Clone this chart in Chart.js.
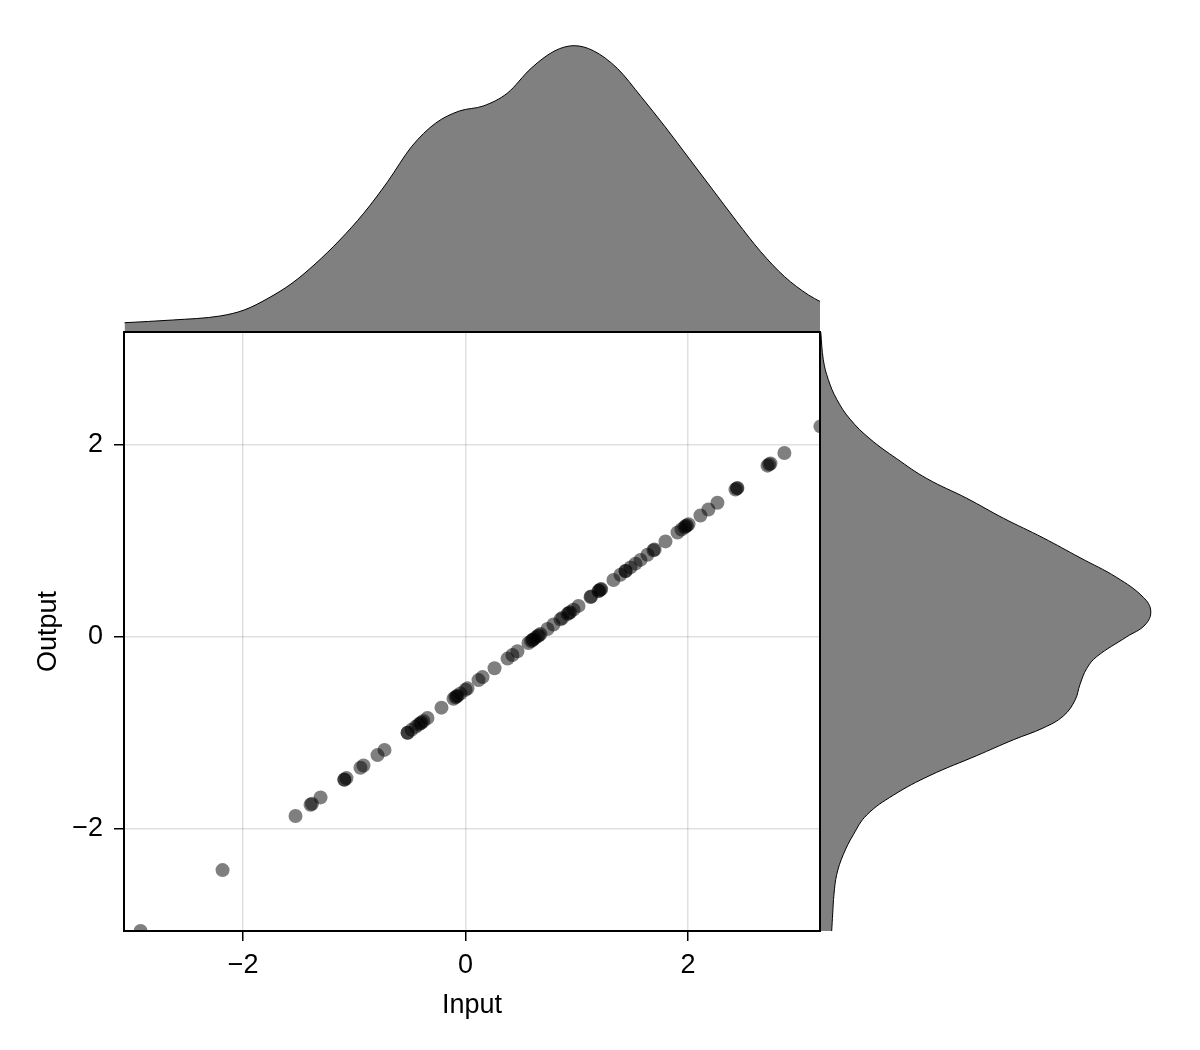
<!DOCTYPE html>
<html>
<head>
<meta charset="utf-8">
<script src="https://cdn.jsdelivr.net/npm/chart.js@4.4.1/dist/chart.umd.min.js"></script>
<style>
  html, body { margin: 0; padding: 0; background: #ffffff; }
  #wrap { position: relative; width: 1200px; height: 1050px; background: #ffffff; }
  canvas { position: absolute; }
</style>
</head>
<body>
<div id="wrap">
  <canvas id="topDensity" width="696" height="301" style="left:124px; top:30px;"></canvas>
  <canvas id="rightDensity" width="350" height="599" style="left:820px; top:332px;"></canvas>
  <canvas id="main" width="1200" height="1050" style="left:0px; top:0px;"></canvas>
</div>
<script>
// ---------------- data ----------------
const inputValues = [
  -2.921, -2.184, -1.528, -1.393, -1.380, -1.303, -1.088, -1.090, -1.070, -0.944, -0.917,
  -0.791, -0.728, -0.521, -0.520, -0.485, -0.449, -0.422, -0.405, -0.395, -0.378, -0.342,
  -0.216, -0.108, -0.090, -0.080, -0.072, -0.045, 0.000, 0.018, 0.117, 0.153, 0.261,
  0.378, 0.422, 0.467, 0.566, 0.590, 0.602, 0.610, 0.629, 0.650, 0.660, 0.674, 0.737,
  0.791, 0.854, 0.870, 0.917, 0.930, 0.940, 0.971, 1.016, 1.124, 1.130, 1.196, 1.200,
  1.214, 1.220, 1.330, 1.393, 1.438, 1.440, 1.483, 1.528, 1.573, 1.636, 1.690, 1.700,
  1.798, 1.906, 1.942, 1.969, 1.980, 1.990, 2.005, 2.112, 2.184, 2.265, 2.427, 2.440,
  2.445, 2.715, 2.730, 2.742, 2.867, 3.191
];
const outputValues = [
  -3.062, -2.428, -1.864, -1.748, -1.737, -1.671, -1.485, -1.487, -1.470, -1.362, -1.339,
  -1.230, -1.176, -0.998, -0.997, -0.967, -0.936, -0.913, -0.898, -0.890, -0.875, -0.844,
  -0.736, -0.643, -0.627, -0.619, -0.612, -0.589, -0.550, -0.535, -0.449, -0.418, -0.326,
  -0.225, -0.187, -0.148, -0.063, -0.043, -0.032, -0.025, -0.009, 0.009, 0.018, 0.030, 0.084,
  0.130, 0.184, 0.198, 0.239, 0.250, 0.258, 0.285, 0.324, 0.417, 0.422, 0.478, 0.482,
  0.494, 0.499, 0.594, 0.648, 0.687, 0.688, 0.725, 0.764, 0.803, 0.857, 0.903, 0.912,
  0.996, 1.089, 1.120, 1.143, 1.153, 1.161, 1.174, 1.266, 1.328, 1.398, 1.537, 1.548,
  1.553, 1.785, 1.798, 1.808, 1.916, 2.194
];

// marginal density of Input (top)
const topGrid = [
  -3.065, -2.635, -2.205, -1.990, -1.775, -1.560, -1.345, -1.130, -0.915, -0.700,
  -0.485, -0.270, -0.055, 0.160, 0.375, 0.590, 0.805, 0.977, 1.149, 1.364,
  1.579, 1.794, 2.009, 2.224, 2.440, 2.654, 2.869, 3.084, 3.190
];
const topDensityValues = [
  0.0092, 0.0122, 0.0167, 0.0233, 0.0363, 0.0530, 0.0752, 0.1011, 0.1308, 0.1659,
  0.2048, 0.2308, 0.2444, 0.2500, 0.2641, 0.2919, 0.3114, 0.3170, 0.3114, 0.2919,
  0.2603, 0.2270, 0.1919, 0.1567, 0.1214, 0.0881, 0.0603, 0.0400, 0.0326
];

// marginal density of Output (right)
const rightGrid = [
  3.177, 2.888, 2.682, 2.476, 2.270, 2.064, 1.857, 1.651, 1.445, 1.238,
  1.032, 0.826, 0.620, 0.414, 0.270, 0.126, 0.002, -0.204, -0.328, -0.493,
  -0.658, -0.823, -0.947, -1.071, -1.236, -1.442, -1.648, -1.854, -2.060, -2.267,
  -2.473, -2.679, -2.885, -3.0625
];
const rightDensityValues = [
  0.0008, 0.0036, 0.0090, 0.0182, 0.0326, 0.0543, 0.0834, 0.1160, 0.1595, 0.1992,
  0.2427, 0.2826, 0.3225, 0.3514, 0.3595, 0.3533, 0.3334, 0.3008, 0.2899, 0.2826,
  0.2772, 0.2645, 0.2427, 0.2101, 0.1703, 0.1196, 0.0797, 0.0508, 0.0362, 0.0253,
  0.0182, 0.0152, 0.0138, 0.0127
];

const xTicks = [-2, 0, 2];
const yTicks = [-2, 0, 2];
const xTitle = 'Input';
const yTitle = 'Output';

// ---------------- config ----------------
const X_MIN = -3.070, X_MAX = 3.187;
const Y_MIN = -3.0625, Y_MAX = 3.177;
const FONT = { family: '"Liberation Sans", Arial, Helvetica, sans-serif', size: 27 };
const fmt = v => (v < 0 ? '\u2212' + Math.abs(v) : String(v));

const framePlugin = {
  id: 'frame',
  afterDraw(chart) {
    const { ctx, chartArea: a } = chart;
    ctx.save();
    ctx.strokeStyle = '#000';
    ctx.lineWidth = 2;
    ctx.strokeRect(a.left, a.top, a.right - a.left, a.bottom - a.top);
    ctx.restore();
  }
};

new Chart(document.getElementById('main'), {
  type: 'scatter',
  data: {
    datasets: [{
      data: inputValues.map((x, i) => ({ x: x, y: outputValues[i] })),
      backgroundColor: 'rgba(0,0,0,0.5)',
      borderWidth: 0,
      pointRadius: 7,
      pointHoverRadius: 7,
      clip: 0
    }]
  },
  options: {
    responsive: false,
    animation: false,
    events: [],
    layout: { padding: { left: 0, top: 332, right: 380, bottom: 19 } },
    plugins: { legend: { display: false }, tooltip: { enabled: false } },
    scales: {
      x: {
        type: 'linear', min: X_MIN, max: X_MAX,
        afterFit(s) { s.height = 100; },
        afterBuildTicks(s) { s.ticks = xTicks.map(v => ({ value: v })); },
        ticks: { padding: 8, font: FONT, color: '#000', callback: v => fmt(v), maxRotation: 0 },
        grid: { color: 'rgba(0,0,0,0.12)', lineWidth: 1.5, drawTicks: true, tickLength: 10, tickColor: '#000', tickWidth: 1.5 },
        border: { display: false },
        title: { display: true, text: xTitle, font: FONT, color: '#000', padding: { top: 0, bottom: 9 } }
      },
      y: {
        type: 'linear', min: Y_MIN, max: Y_MAX,
        afterFit(s) { s.width = 124; },
        afterBuildTicks(s) { s.ticks = yTicks.map(v => ({ value: v })); },
        ticks: { padding: 11, font: FONT, color: '#000', callback: v => fmt(v) },
        grid: { color: 'rgba(0,0,0,0.12)', lineWidth: 1.5, drawTicks: true, tickLength: 10, tickColor: '#000', tickWidth: 1.5 },
        border: { display: false },
        title: { display: true, text: yTitle, font: FONT, color: '#000', padding: { top: 32, bottom: 0 } }
      }
    }
  },
  plugins: [framePlugin]
});

new Chart(document.getElementById('topDensity'), {
  type: 'line',
  data: {
    datasets: [{
      data: topGrid.map((x, i) => ({ x: x, y: topDensityValues[i] })),
      borderColor: '#000',
      borderWidth: 1,
      backgroundColor: 'rgb(128,128,128)',
      fill: 'origin',
      pointRadius: 0,
      cubicInterpolationMode: 'monotone'
    }]
  },
  options: {
    responsive: false,
    animation: false,
    events: [],
    layout: { padding: 0 },
    plugins: { legend: { display: false }, tooltip: { enabled: false } },
    scales: {
      x: { type: 'linear', display: false, min: X_MIN, max: X_MAX },
      y: { type: 'linear', display: false, min: 0, max: 0.3344 }
    }
  }
});

new Chart(document.getElementById('rightDensity'), {
  type: 'line',
  data: {
    datasets: [{
      data: rightGrid.map((y, i) => ({ x: rightDensityValues[i], y: y })),
      borderColor: '#000',
      borderWidth: 1,
      backgroundColor: 'rgb(128,128,128)',
      fill: 'origin',
      pointRadius: 0,
      tension: 0.4
    }]
  },
  options: {
    indexAxis: 'y',
    responsive: false,
    animation: false,
    events: [],
    layout: { padding: 0 },
    plugins: { legend: { display: false }, tooltip: { enabled: false } },
    scales: {
      x: { type: 'linear', display: false, min: 0, max: 0.3804 },
      y: { type: 'linear', display: false, min: Y_MIN, max: Y_MAX }
    }
  }
});
</script>
</body>
</html>
